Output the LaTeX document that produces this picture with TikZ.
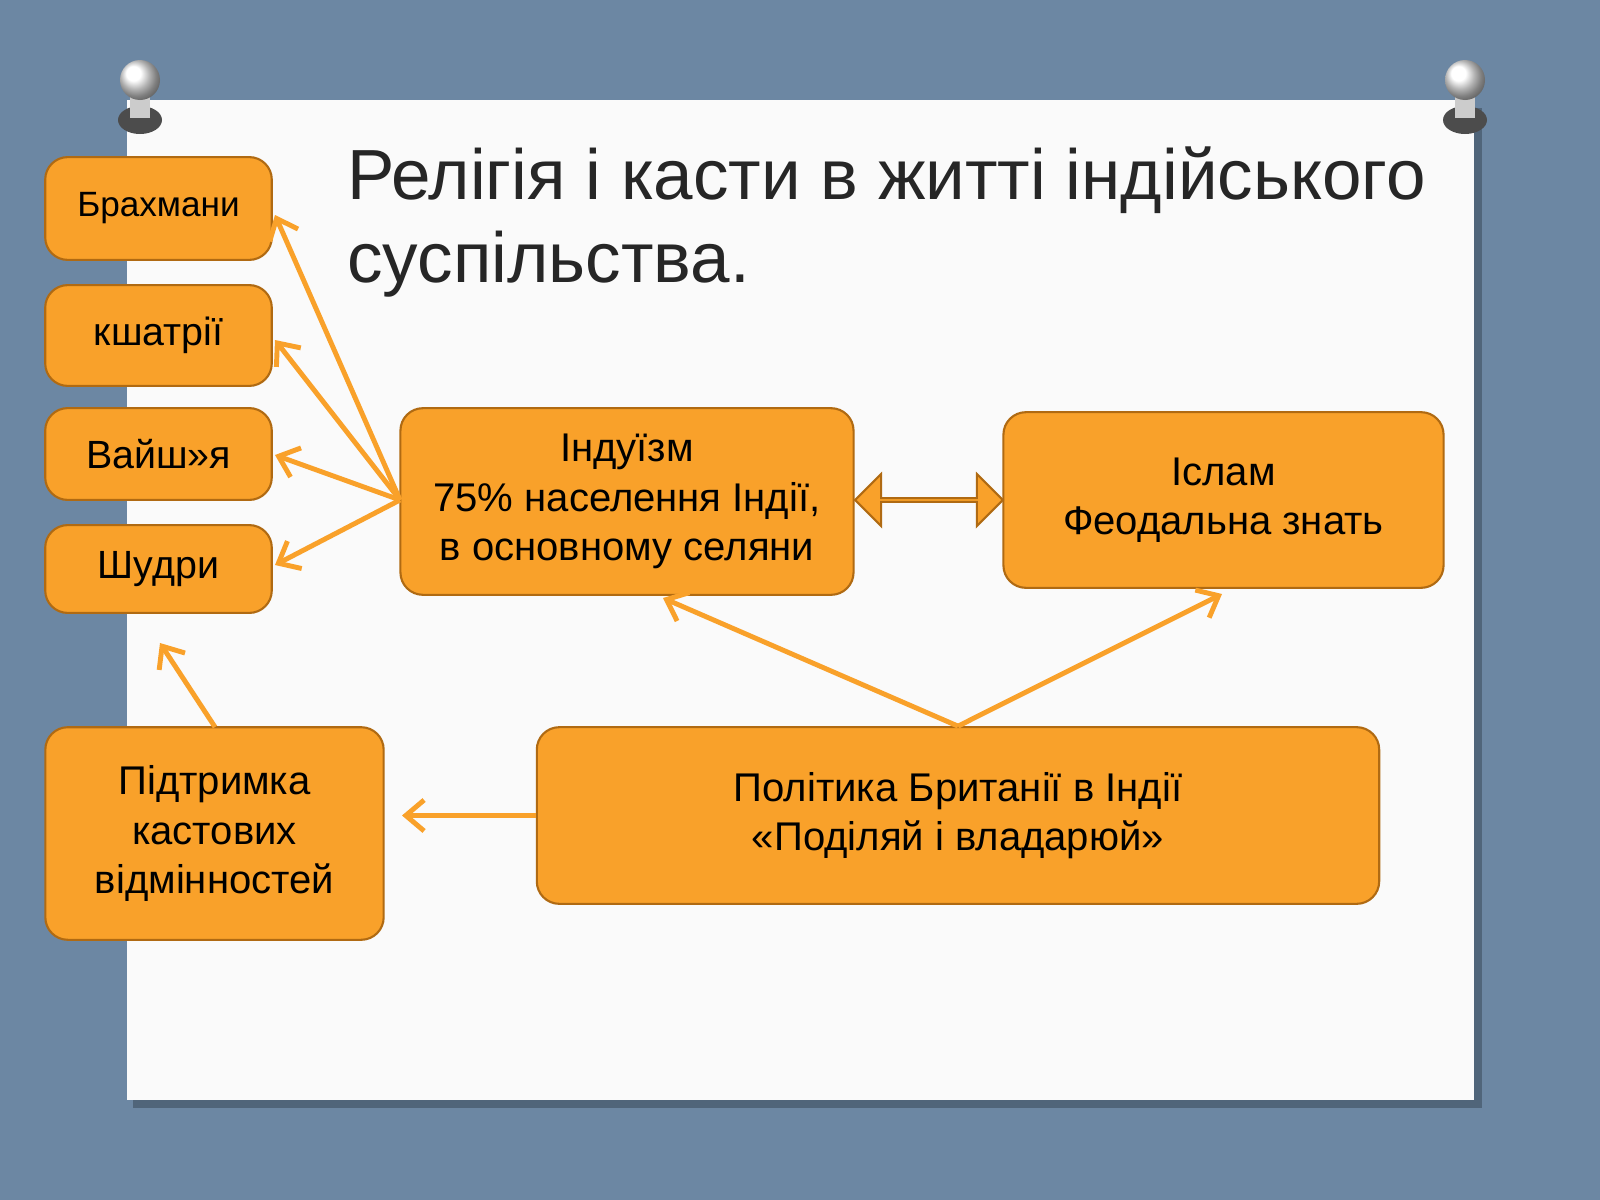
\documentclass[tikz,border=0pt]{standalone}
\usepackage{fontspec}
\setmainfont{Liberation Sans}
\usetikzlibrary{shapes.arrows,arrows.meta,shadows}
\definecolor{bg}{HTML}{6C87A3}
\definecolor{org}{HTML}{F9A12A}
\definecolor{orgd}{HTML}{B06A12}
\begin{document}
\begin{tikzpicture}[x=0.05cm,y=-0.05cm,
 box/.style={draw=orgd,line width=3pt,fill=org,rounded corners=32pt,align=center,text=black,inner sep=0pt},
 arr/.style={draw=org,line width=7pt,-{Straight Barb[length=26pt,width=44pt,line width=7pt]}}]
\useasboundingbox (0,0) rectangle (1600,1200);
\fill[bg] (0,0) rectangle (1600,1200);
\fill[black,opacity=0.25] (133,108) rectangle (1482,1108);
\fill[white!96!gray] (127,100) rectangle (1474,1100);
\foreach \px in {140,1465}{
 \fill[gray!60!black] (\px,120) ellipse (22 and 14);
 \fill[gray!40] (\px-10,80) rectangle (\px+10,118);
 \shade[ball color=white] (\px,80) circle (20);
}
\node[anchor=north west,align=left,font=\fontsize{101}{118}\selectfont,text=black!85] (title) at (345,144) {Релігія і касти в житті індійського\\суспільства.};
\node[box,minimum width=227*1.42pt,minimum height=103*1.42pt,font=\fontsize{50}{58}\selectfont] (b1) at (158.5,208.5) {Брахмани};
\node[box,minimum width=227*1.42pt,minimum height=101*1.42pt,font=\fontsize{56}{64}\selectfont] (b2) at (158.5,335.5) {кшатрії};
\node[box,minimum width=227*1.42pt,minimum height=92*1.42pt,font=\fontsize{56}{64}\selectfont] (b3) at (158.5,454) {Вайш»я};
\node[box,minimum width=227*1.42pt,minimum height=88*1.42pt,font=\fontsize{56}{64}\selectfont] (b4) at (158.5,569) {Шудри};
\node[box,minimum width=454*1.42pt,minimum height=187*1.42pt,font=\fontsize{57}{70}\selectfont] (ind) at (627,501.5) {Індуїзм\\75\% населення Індії,\\в основному селяни};
\node[box,minimum width=441*1.42pt,minimum height=176*1.42pt,font=\fontsize{57}{70}\selectfont] (isl) at (1223.5,500) {Іслам\\Феодальна знать};
\node[box,minimum width=339*1.42pt,minimum height=213*1.42pt,font=\fontsize{57}{70}\selectfont] (pid) at (214.5,833.5) {Підтримка\\кастових\\відмінностей};
\node[box,minimum width=844*1.42pt,minimum height=177*1.42pt,font=\fontsize{57}{70}\selectfont] (pol) at (958,815.5) {Політика Британії в Індії\\«Поділяй і владарюй»};
\coordinate (h) at (400,500);
\draw[arr] (h) -- (275,215);
\draw[arr] (h) -- (275,340);
\draw[arr] (h) -- (275,455);
\draw[arr] (h) -- (275,565);
\draw[arr] (pol.north) -- (663,598);
\draw[arr] (pol.north) -- (1222,594);
\draw[arr] (pol.west) -- (402,815.5);
\draw[arr] (215,727) -- (160,643);
\node[double arrow,draw=orgd,line width=3pt,fill=org,minimum width=52*1.42pt,double arrow head extend=14*1.42pt,minimum height=148*1.42pt,inner sep=0pt] (da) at (929,500) {};
\end{tikzpicture}
\end{document}
